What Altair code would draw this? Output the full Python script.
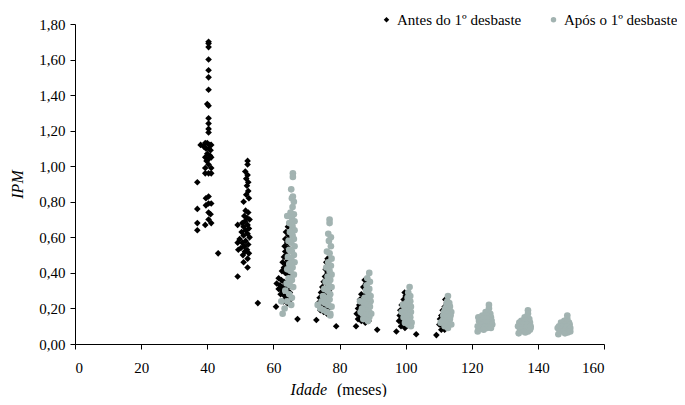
import altair as alt
import pandas as pd

# "Antes do 1º desbaste" (black diamonds)
antes_idade = [
    40.4, 40.4, 40.4, 40.4, 40.4, 40.4, 40.4, 40.0, 40.4, 40.4, 40.4, 40.4, 40.4, 39.4, 40.0, 40.8, 41.2,
    39.0, 39.6, 40.4, 41.0, 40.0, 40.8, 39.4, 40.4, 41.2, 39.8, 40.4, 39.4, 41.2, 39.4, 40.4, 41.2, 37.0,
    40.4, 39.6, 40.4, 41.2, 39.6, 37.0, 40.4, 41.0, 40.4, 37.0, 39.4, 41.2, 37.0, 38.0, 43.3,
    52.2, 52.2, 51.5, 52.2, 51.8, 52.4, 52.0, 52.4, 51.8, 52.6, 51.0, 51.6, 52.4, 51.2, 52.0, 52.8, 51.4,
    50.6, 52.2, 49.2, 51.0, 52.6, 51.6, 50.4, 52.2, 51.0, 52.8, 49.8, 51.6, 50.6, 49.2, 52.4, 51.2, 50.2,
    52.0, 49.4, 51.4, 52.6, 50.8, 52.2, 51.0, 52.2, 49.2, 55.3,
    64.4, 63.8, 64.6, 63.6, 64.2, 63.4, 64.6, 63.6, 64.0, 63.2, 64.4, 62.8, 63.8, 64.6, 63.2, 64.0, 62.6,
    63.6, 64.4, 61.6, 62.4, 63.2, 64.2, 61.0, 62.0, 63.0, 64.6, 61.6, 62.6, 63.8, 65.0, 62.2, 63.4, 64.4,
    65.2, 63.0, 64.2, 60.8, 67.3,
    76.4, 76.0, 76.6, 75.8, 76.4, 75.6, 76.8, 75.2, 76.2, 74.8, 75.8, 76.8, 74.4, 75.4, 76.4, 74.0, 75.0,
    76.0, 73.6, 74.6, 75.6, 76.6, 74.2, 75.2, 76.2, 73.0, 79.0,
    87.6, 88.0, 87.2, 86.6, 87.6, 86.2, 87.0, 86.0, 85.6, 86.6, 87.6, 85.2, 86.2, 87.2, 88.2, 85.6, 86.6,
    87.8, 88.8, 85.0, 91.4,
    99.7, 100.0, 99.4, 98.8, 99.8, 98.4, 99.4, 98.2, 99.0, 100.0, 98.0, 99.0, 100.2, 101.0, 98.6, 99.8,
    97.2, 103.2,
    112.0, 112.4, 111.8, 111.2, 112.2, 110.8, 111.8, 110.4, 111.4, 112.4, 110.2, 111.2, 112.2, 110.8,
    111.8, 109.3,
]
antes_ipm = [
    1.70, 1.69, 1.67, 1.60, 1.54, 1.50, 1.43, 1.35, 1.34, 1.27, 1.24, 1.21, 1.19, 1.13, 1.13, 1.12, 1.12,
    1.11, 1.10, 1.10, 1.09, 1.07, 1.06, 1.05, 1.04, 1.05, 1.03, 1.01, 0.99, 0.99, 0.96, 0.96, 0.96, 0.91,
    0.83, 0.82, 0.79, 0.79, 0.78, 0.76, 0.74, 0.73, 0.70, 0.68, 0.67, 0.68, 0.64, 1.12, 0.51,
    1.03, 1.01, 0.97, 0.95, 0.93, 0.91, 0.89, 0.86, 0.84, 0.82, 0.80, 0.75, 0.74, 0.72, 0.71, 0.70, 0.69,
    0.68, 0.67, 0.67, 0.66, 0.65, 0.64, 0.63, 0.62, 0.61, 0.60, 0.59, 0.58, 0.57, 0.57, 0.56, 0.55, 0.54,
    0.53, 0.53, 0.52, 0.51, 0.50, 0.48, 0.46, 0.43, 0.38, 0.23,
    0.66, 0.63, 0.61, 0.59, 0.57, 0.55, 0.54, 0.52, 0.50, 0.49, 0.47, 0.46, 0.45, 0.44, 0.43, 0.42, 0.41,
    0.40, 0.39, 0.37, 0.36, 0.35, 0.35, 0.34, 0.33, 0.32, 0.32, 0.31, 0.30, 0.30, 0.29, 0.28, 0.27, 0.26,
    0.25, 0.24, 0.23, 0.21, 0.14,
    0.48, 0.46, 0.44, 0.42, 0.40, 0.38, 0.37, 0.35, 0.34, 0.32, 0.31, 0.30, 0.29, 0.28, 0.27, 0.26, 0.25,
    0.24, 0.23, 0.22, 0.21, 0.20, 0.19, 0.18, 0.17, 0.135, 0.10,
    0.36, 0.34, 0.32, 0.28, 0.27, 0.25, 0.24, 0.22, 0.20, 0.19, 0.18, 0.17, 0.16, 0.15, 0.14, 0.14, 0.13,
    0.12, 0.13, 0.10, 0.08,
    0.29, 0.27, 0.25, 0.22, 0.21, 0.19, 0.18, 0.16, 0.15, 0.14, 0.13, 0.12, 0.11, 0.12, 0.10, 0.09,
    0.07, 0.055,
    0.25, 0.23, 0.21, 0.19, 0.18, 0.16, 0.15, 0.14, 0.13, 0.12, 0.11, 0.10, 0.09, 0.08,
    0.08, 0.05,
]

# "Após o 1º desbaste" (grey circles)
apos_idade = [
    65.9, 65.9, 65.4, 65.9, 65.6, 66.2, 65.8, 65.2, 66.2, 64.2, 65.6, 66.4, 64.8, 65.8, 66.4, 65.0, 65.8,
    66.2, 64.6, 65.4, 66.4, 64.8, 65.6, 66.2, 64.4, 65.4, 66.4, 64.8, 65.8, 64.2, 65.2, 66.2, 64.6, 65.6,
    64.0, 65.0, 66.0, 63.6, 64.8, 65.6, 64.2, 65.4, 62.4, 62.8, 63.4,
    77.0, 77.0, 76.6, 77.4, 76.8, 77.4, 76.2, 77.0, 77.6, 76.6, 77.4, 76.0, 77.0, 77.6, 76.4, 77.2, 75.8,
    76.8, 77.6, 75.4, 76.4, 77.2, 75.0, 76.0, 77.0, 74.6, 75.6, 76.6, 77.6, 74.2, 75.2, 76.2, 77.2, 77.2,
    73.4,
    89.0, 88.4, 89.2, 88.2, 89.0, 88.0, 88.8, 89.4, 87.6, 88.6, 89.4, 87.4, 88.4, 89.2, 87.0, 88.0, 89.0,
    89.6, 87.0, 88.0, 89.0, 86.4, 87.2, 88.6, 86.2, 86.8,
    101.2, 100.8, 101.4, 100.6, 101.4, 100.2, 101.0, 101.6, 99.8, 100.8, 101.6, 99.6, 100.6, 101.4, 99.4,
    100.4, 101.2, 101.8, 99.8, 100.8, 98.8, 99.2, 101.6,
    112.8, 112.6, 113.2, 112.4, 113.4, 112.0, 113.0, 113.8, 111.6, 112.6, 113.6, 111.4, 112.4, 113.4,
    111.2, 112.2, 113.2, 113.8, 111.8, 112.8, 110.6,
    125.2, 125.2, 124.2, 125.6, 123.2, 124.4, 125.8, 122.0, 123.4, 124.8, 126.0, 122.2, 123.6, 125.0,
    126.2, 122.6, 124.0, 125.4, 123.0, 124.6, 121.8, 121.8, 123.6, 125.8,
    137.0, 137.0, 136.0, 137.4, 135.0, 136.2, 137.6, 134.4, 135.6, 136.8, 137.8, 134.0, 135.2, 136.4,
    137.6, 134.6, 135.8, 137.0, 134.2, 136.2, 137.8,
    148.9, 148.9, 148.0, 149.4, 147.0, 148.2, 149.6, 146.4, 147.6, 148.8, 149.8, 146.0, 147.2, 148.4,
    149.6, 146.6, 147.8, 149.0, 146.2, 148.2, 149.8,
]
apos_ipm = [
    0.96, 0.94, 0.87, 0.83, 0.82, 0.80, 0.77, 0.74, 0.73, 0.72, 0.71, 0.69, 0.68, 0.66, 0.64, 0.63, 0.61,
    0.59, 0.58, 0.57, 0.55, 0.53, 0.52, 0.50, 0.49, 0.48, 0.46, 0.45, 0.43, 0.42, 0.41, 0.39, 0.37, 0.36,
    0.34, 0.33, 0.32, 0.30, 0.28, 0.26, 0.24, 0.22, 0.24, 0.17, 0.20,
    0.70, 0.68, 0.62, 0.60, 0.58, 0.55, 0.52, 0.51, 0.48, 0.46, 0.44, 0.43, 0.41, 0.39, 0.38, 0.36, 0.35,
    0.33, 0.32, 0.31, 0.30, 0.28, 0.27, 0.26, 0.25, 0.24, 0.23, 0.22, 0.21, 0.20, 0.19, 0.18, 0.17, 0.16,
    0.22,
    0.40, 0.37, 0.35, 0.33, 0.31, 0.30, 0.28, 0.27, 0.26, 0.25, 0.24, 0.23, 0.22, 0.21, 0.20, 0.19, 0.18,
    0.17, 0.17, 0.16, 0.15, 0.18, 0.14, 0.13, 0.24, 0.20,
    0.32, 0.29, 0.27, 0.26, 0.24, 0.23, 0.22, 0.21, 0.20, 0.19, 0.18, 0.17, 0.16, 0.15, 0.15,
    0.14, 0.13, 0.12, 0.12, 0.11, 0.18, 0.22, 0.10,
    0.27, 0.24, 0.23, 0.22, 0.21, 0.20, 0.19, 0.18, 0.18, 0.17, 0.16, 0.16, 0.15, 0.14,
    0.13, 0.12, 0.12, 0.11, 0.10, 0.09, 0.12,
    0.22, 0.20, 0.18, 0.17, 0.16, 0.16, 0.15, 0.15, 0.14, 0.14, 0.13, 0.13, 0.12, 0.12,
    0.11, 0.11, 0.10, 0.10, 0.09, 0.09, 0.10, 0.07, 0.08, 0.09,
    0.19, 0.17, 0.15, 0.14, 0.13, 0.13, 0.12, 0.12, 0.11, 0.11, 0.10, 0.10, 0.09, 0.09,
    0.08, 0.08, 0.07, 0.07, 0.06, 0.065, 0.09,
    0.16, 0.14, 0.13, 0.12, 0.12, 0.11, 0.11, 0.10, 0.10, 0.10, 0.09, 0.09, 0.08, 0.08,
    0.08, 0.07, 0.07, 0.065, 0.055, 0.06, 0.07,
]

series_names = ["Antes do 1º desbaste", "Após o 1º desbaste"]
x_ticks = [0, 20, 40, 60, 80, 100, 120, 140, 160]
y_ticks = [0.0, 0.2, 0.4, 0.6, 0.8, 1.0, 1.2, 1.4, 1.6, 1.8]

df = pd.concat([
    pd.DataFrame({"Idade": antes_idade, "IPM": antes_ipm, "Serie": series_names[0]}),
    pd.DataFrame({"Idade": apos_idade, "IPM": apos_ipm, "Serie": series_names[1]}),
], ignore_index=True)
df["ordem"] = (df["Serie"] == series_names[1]).astype(int)

FONT = "Liberation Serif"
GREY = "#a2b3b1"

axis_common = dict(grid=False, domain=True, domainColor="black", domainWidth=1,
                   ticks=True, tickColor="black", tickWidth=1, tickSize=5,
                   labelColor="black", labelFont=FONT, labelFontSize=15)

points = alt.Chart(df).mark_point(filled=True, opacity=1, size=44).encode(
    x=alt.X("Idade:Q", scale=alt.Scale(domain=[0, 160], nice=False),
            axis=alt.Axis(values=x_ticks, title=None, labelPadding=11, format="d",
                          **axis_common)),
    y=alt.Y("IPM:Q", scale=alt.Scale(domain=[0, 1.8], nice=False),
            axis=alt.Axis(values=y_ticks, title="IPM", titleFontStyle="italic",
                          titleFontWeight="normal", titleFontSize=16, titlePadding=13,
                          titleFont=FONT, titleColor="black", labelPadding=5,
                          labelExpr="replace(format(datum.value, '.2f'), '.', ',')",
                          **axis_common)),
    color=alt.Color("Serie:N", scale=alt.Scale(domain=series_names, range=["#000000", GREY]),
                    legend=alt.Legend(title=None, orient="none", legendX=304, legendY=-12,
                                      direction="horizontal", labelFontSize=15, labelFont=FONT,
                                      labelColor="black", symbolSize=30, columnPadding=24,
                                      labelOffset=3)),
    shape=alt.Shape("Serie:N", scale=alt.Scale(domain=series_names, range=["diamond", "circle"]),
                    legend=alt.Legend(title=None, orient="none", legendX=304, legendY=-12,
                                      direction="horizontal")),
    order=alt.Order("ordem:Q"),
)

t1 = alt.Chart(pd.DataFrame({"t": ["Idade"]})).mark_text(
    font=FONT, fontSize=16, fontStyle="italic", align="right", baseline="alphabetic",
    color="black"
).encode(text="t:N", x=alt.value(252), y=alt.value(371))
t2 = alt.Chart(pd.DataFrame({"t": ["(meses)"]})).mark_text(
    font=FONT, fontSize=16, align="left", baseline="alphabetic", color="black"
).encode(text="t:N", x=alt.value(262), y=alt.value(371))

chart = alt.layer(points, t1, t2).properties(
    width=529, height=320,
    background="white",
    autosize=alt.AutoSizeParams(type="none"),
    padding={"left": 67, "top": 16, "right": 73, "bottom": 53},
).configure_view(stroke=None)

chart.save("out.html", embed_options={"renderer": "svg", "actions": False})
